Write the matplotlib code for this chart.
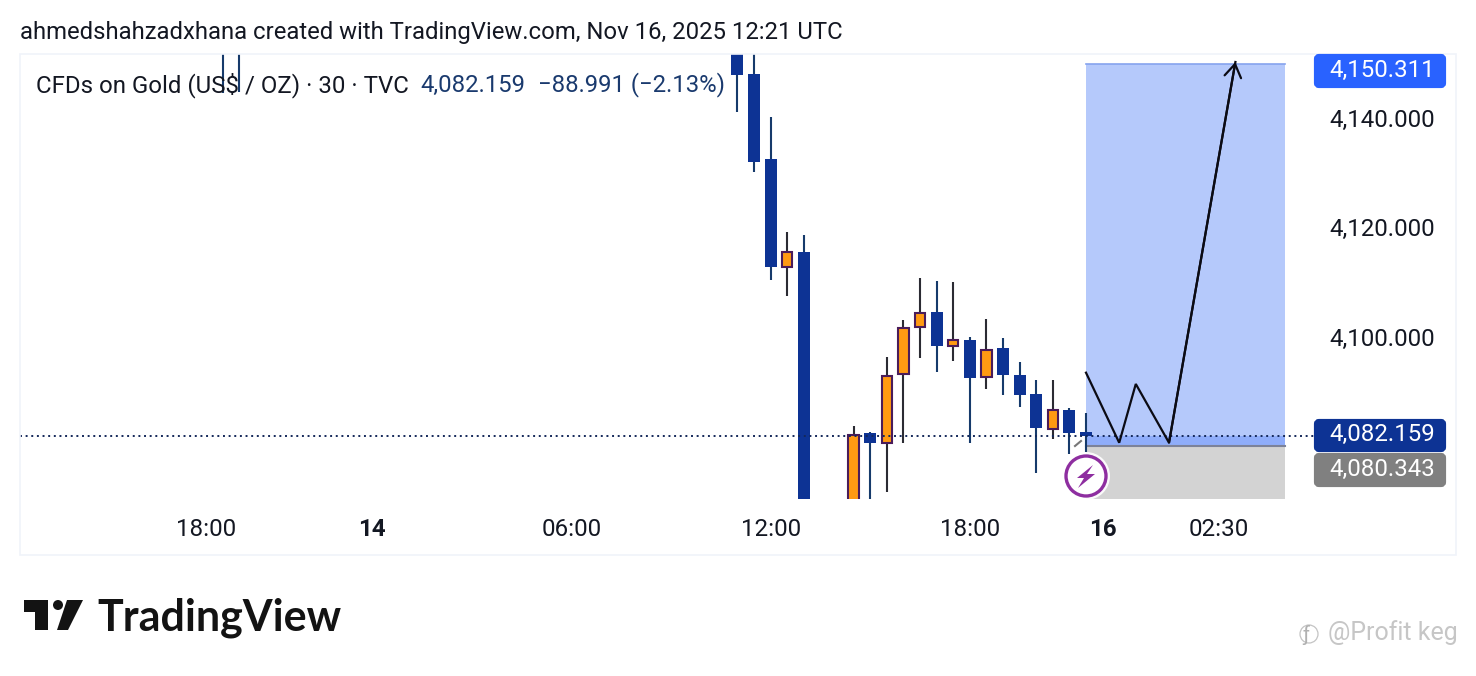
import matplotlib
matplotlib.use('Agg')
import matplotlib.pyplot as plt
from matplotlib.patches import Rectangle, FancyBboxPatch, Circle, Polygon
from matplotlib.transforms import ScaledTranslation

plt.rcParams['font.family'] = ['Roboto', 'DejaVu Sans']

W, H = 1476, 676

# bars counted back from the last 30 min candle
bar_x = [-52, -51, -21, -20, -19, -18, -17, -16, -15, -14, -13, -12, -11, -10,
         -9, -8, -7, -6, -5, -4, -3, -2, -1, 0]
opens = [4160.0, 4161.0, 4158.0, 4148.49, 4132.91, 4113.12, 4115.87, 4060.0, 4062.0, 4066.0, 4082.71, 4080.93,
         4093.52, 4102.13, 4104.88, 4098.65, 4099.75, 4092.97, 4098.28, 4093.34, 4089.86, 4083.44, 4086.92, 4082.84]
closes = [4156.0, 4157.0, 4148.36, 4132.42, 4113.18, 4115.87, 4060.0, 4062.0, 4066.0, 4082.34, 4080.88, 4093.15,
          4102.0, 4104.75, 4098.70, 4099.80, 4092.84, 4097.97, 4093.39, 4089.73, 4083.68, 4086.98, 4082.76, 4082.159]
highs = [4163.0, 4164.0, 4160.0, 4158.0, 4140.66, 4119.59, 4118.99, 4064.0, 4068.0, 4083.99, 4082.84, 4096.63,
         4103.41, 4111.11, 4110.56, 4110.38, 4100.30, 4103.60, 4100.12, 4095.72, 4092.42, 4092.42, 4087.29, 4086.37]
lows = [4145.0, 4145.19, 4141.58, 4130.58, 4110.74, 4107.81, 4058.0, 4058.0, 4060.0, 4064.0, 4068.0, 4071.96,
        4080.88, 4096.45, 4093.94, 4095.96, 4080.88, 4090.77, 4089.73, 4087.53, 4075.38, 4081.67, 4078.86, 4079.28]

last_price = 4082.159
target_price = 4150.311
entry_price = 4080.343
y_ticks = [4100, 4120, 4140]

x_ticks = [-53, -43, -31, -19, -7, 1, 8]
x_labels = ['18:00', '14', '06:00', '12:00', '18:00', '16', '02:30']
bold_labels = ['14', '16']

path_x = [0, 2, 3, 5, 9]
path_y = [4093.76, 4080.93, 4091.69, 4080.93, 4150.68]

BLUE = '#0d3394'
ORANGE = '#ff9a12'
EDGE = '#4a1c5a'
WICK_DOWN = '#163a6b'
WICK_UP = '#2b2b33'

bar_px = 16.6
x0_px = 1086
left, right, top, bottom = 20, 1314, 54, 499
y_per_px = 5.458

fig = plt.figure(figsize=(W / 100, H / 100), dpi=100, facecolor='white')
ax = fig.add_axes([left / W, 1 - bottom / H, (right - left) / W, (bottom - top) / H])
ax.set_xlim((left - x0_px) / bar_px, (right - x0_px) / bar_px)
ax.set_ylim(last_price - (bottom - 436) / y_per_px, last_price + (436 - top) / y_per_px)
for s in ax.spines.values():
    s.set_visible(False)

# position tool
pos_l, pos_r = 0, 12
ax.fill_between([pos_l, pos_r], entry_price, target_price, color='#b5c9fb', lw=0, zorder=1)
ax.fill_between([pos_l, pos_r], entry_price, last_price, color='#8fadfa', lw=0, zorder=1.1)
ax.fill_between([pos_l, pos_r], ax.get_ylim()[0], entry_price, color='#d3d3d3', lw=0, zorder=1)
ax.plot([pos_l, pos_r], [target_price, target_price], color='#86a3ee', lw=1.2, zorder=1.2)
ax.plot([pos_l, pos_r], [entry_price, entry_price], color='#7c8299', lw=1.5, zorder=1.2)

# candles
for x, o, c, h, l in zip(bar_x, opens, closes, highs, lows):
    up = c >= o
    ax.vlines(x, l, h, color=WICK_UP if up else WICK_DOWN, lw=1.5, zorder=3)
    if up:
        ax.bar(x, c - o, bottom=o, width=0.62, color=ORANGE, edgecolor=EDGE, lw=1.5, zorder=4)
    else:
        ax.bar(x, o - c, bottom=c, width=0.72, color=BLUE, lw=0, zorder=4)

ax.axhline(last_price, color='#14285a', lw=1.4, ls=(0, (1, 1.9)), zorder=5)

ax.plot(path_x, path_y, color='#0b0b14', lw=1.6, zorder=6, solid_joinstyle='miter')
ax.annotate('', xy=(path_x[-1], path_y[-1]), xytext=(path_x[-2], path_y[-2]), zorder=6, annotation_clip=False,
            arrowprops=dict(arrowstyle='->,head_length=0.62,head_width=0.4', color='#0b0b14', lw=1.6,
                            mutation_scale=15, shrinkA=0, shrinkB=0))

ax.yaxis.tick_right()
ax.set_yticks(y_ticks)
ax.set_yticklabels([f'{v:,.3f}' for v in y_ticks])
ax.tick_params(axis='y', length=0, pad=11, labelsize=17.3, labelcolor='#131722')
lift = ScaledTranslation(0, 2 / 72 * 0.72 * 1.0, fig.dpi_scale_trans)
for t in ax.get_yticklabels():
    t.set_transform(t.get_transform() + ScaledTranslation(0, 2 / 100, fig.dpi_scale_trans))
ax.set_xticks(x_ticks)
ax.set_xticklabels(x_labels)
ax.tick_params(axis='x', length=0, pad=13.5, labelsize=17.4, labelcolor='#131722')
for t in ax.get_xticklabels():
    if t.get_text() in bold_labels:
        t.set_fontweight('bold')

# overlay in picture pixels for the page furniture
ov = fig.add_axes([0, 0, 1, 1], zorder=10)
ov.set_xlim(0, W)
ov.set_ylim(H, 0)
ov.axis('off')
ov.patch.set_alpha(0)

ov.add_patch(Rectangle((20, 54), 1436, 501, fill=False, ec='#f0f3fa', lw=1.2))

ov.text(20, 32.5, 'ahmedshahzadxhana created with TradingView.com, Nov 16, 2025 12:21 UTC',
        fontsize=17.2, color='#131722', va='center')
ov.text(36, 85, 'CFDs on Gold (US$ / OZ) · 30 · TVC', fontsize=17.3, color='#131722', va='center')
ov.text(420, 85, f'{last_price:,.3f}', fontsize=17.2, color='#1a3a6e', va='center')
ov.text(538, 85, '−88.991 (−2.13%)', fontsize=17.2, color='#1a3a6e', va='center')


def pill(y0, y1, color, value):
    ov.add_patch(FancyBboxPatch((1316, y0 + 2), 128, y1 - y0 - 4, boxstyle='round,pad=0,rounding_size=3',
                                fc=color, ec=color, lw=3))
    ov.text(1382, (y0 + y1) / 2 - 1, f'{value:,.3f}', color='white', fontsize=17.3, ha='center', va='center')


pill(54, 88, '#2962ff', target_price)
pill(419, 452, BLUE, last_price)
pill(453, 487, '#808080', entry_price)

# lightning mark
ov.add_patch(Circle((1086, 476), 24, fc='white', ec='none', alpha=0.9))
ov.add_patch(Circle((1086, 476), 20, fc='white', ec='#8e2ea0', lw=2.4))
ov.add_patch(Polygon([(1093, 465), (1077, 478), (1084, 478), (1078, 488), (1095, 474), (1087, 474)],
                     closed=True, fc='#8e2ea0', ec='none'))
ov.plot([1075, 1081], [446, 441], color='#777777', lw=1.5)

# TradingView logo
ov.add_patch(Polygon([(24, 600), (48, 600), (48, 630), (35, 630), (35, 612), (24, 612)], closed=True, fc='#131313', ec='none'))
ov.add_patch(Circle((58, 605), 5, fc='#131313', ec='none'))
ov.add_patch(Polygon([(67, 600), (83, 600), (68, 630), (57, 630)], closed=True, fc='#131313', ec='none'))
ov.text(97, 630, 'TradingView', fontsize=31, fontweight='bold', family='Lato', color='#131313', va='baseline')

# watermark
ov.text(1302, 635, 'ƒ', fontsize=15, color='#b0b0b0', va='center')
ov.add_patch(Circle((1309, 634), 9, fill=False, ec='#c4c4c4', lw=0.9))
ov.text(1328, 633, '@Profit keg', fontsize=18, color='#c6c6c6', va='center')

fig.savefig('out.png', dpi=100, facecolor='white')
